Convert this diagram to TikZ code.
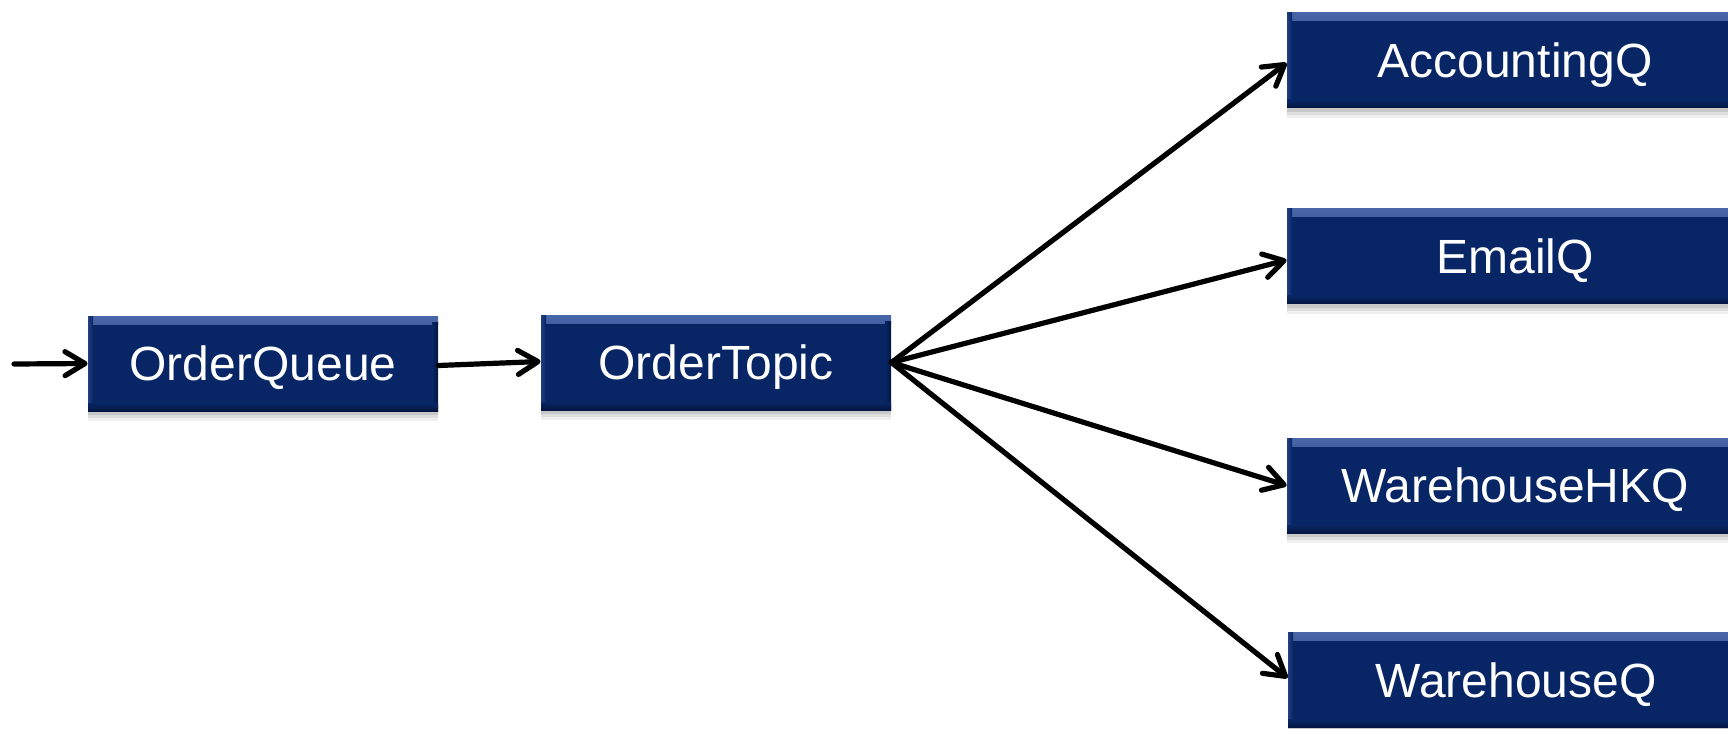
\documentclass[tikz,border=0pt]{standalone}
\usepackage{fontspec}
\setmainfont{Liberation Sans}
\usetikzlibrary{arrows.meta}

\definecolor{navy}{RGB}{8,38,102}
\definecolor{bevlight}{RGB}{72,102,168}
\definecolor{bevdark}{RGB}{4,22,64}

\tikzset{
  qbox/.style={
    fill=navy, draw=none, text=white, inner sep=0pt,
    font=\fontsize{24}{28}\selectfont,
    text height=17pt, text depth=0pt,
    minimum height=47.5pt,
    preaction={fill=black, opacity=0.10, transform canvas={yshift=-2pt}},
    preaction={fill=black, opacity=0.08, transform canvas={yshift=-3.5pt}},
    preaction={fill=black, opacity=0.06, transform canvas={yshift=-5pt}},
    path picture={
      \shade[top color=bevlight, bottom color=navy]
        (path picture bounding box.north west) rectangle
        ([yshift=-4pt]path picture bounding box.north east);
      \shade[left color=navy!60!bevlight, right color=navy]
        (path picture bounding box.north west) rectangle
        ([xshift=2.5pt]path picture bounding box.south west);
      \shade[left color=navy, right color=bevdark]
        ([xshift=-3pt,yshift=-3pt]path picture bounding box.north east) rectangle
        (path picture bounding box.south east);
      \shade[top color=navy, bottom color=bevdark]
        ([yshift=4pt]path picture bounding box.south west) rectangle
        (path picture bounding box.south east);
    }
  },
  flow/.style={
    line width=2.6pt, line cap=round, line join=round,
    -{Straight Barb[length=10pt, width=12pt, line join=round, line cap=round]}
  }
}

\begin{document}
\begin{tikzpicture}[x=0.5pt, y=-0.5pt]
  \useasboundingbox (0,0) rectangle (1728,728);

  % source side
  \node[qbox, minimum width=175pt] (oq) at (263,363.5) {OrderQueue};
  \node[qbox, minimum width=175pt] (ot) at (716,362.5) {OrderTopic};

  % subscriber queues
  \node[qbox, minimum width=228pt] (acc) at (1515,60)    {AccountingQ};
  \node[qbox, minimum width=228pt] (eml) at (1515,256)   {EmailQ};
  \node[qbox, minimum width=228pt] (hkq) at (1515,485.5) {WarehouseHKQ};
  \node[qbox, minimum width=228pt] (whq) at (1516,680)   {WarehouseQ};

  \coordinate (src) at (14,364);

  % connectors
  \draw[flow] (src) -- (oq.west);
  \draw[flow] ([yshift=-1pt]oq.east) -- ([yshift=0.5pt]ot.west);
  \draw[flow] (ot.east) -- ([yshift=-1.5pt]acc.west);
  \draw[flow] (ot.east) -- ([yshift=-2pt]eml.west);
  \draw[flow] (ot.east) -- (hkq.west);
  \draw[flow] (ot.east) -- ([yshift=1pt]whq.west);
\end{tikzpicture}
\end{document}
